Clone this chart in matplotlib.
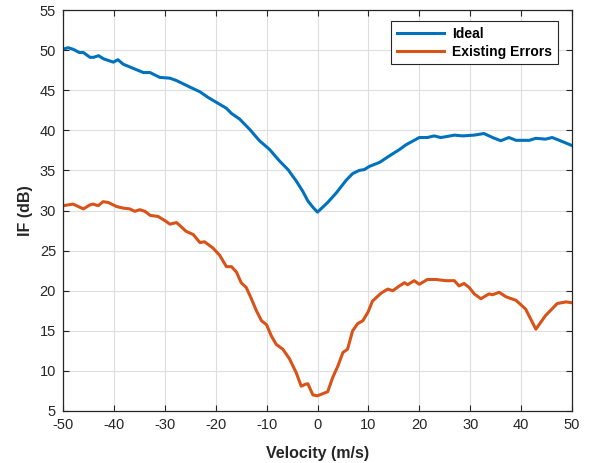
import matplotlib
matplotlib.use("Agg")
import matplotlib.pyplot as plt

ideal_v = [-50, -49, -48, -46.8, -46, -44.7, -44, -43, -42, -40.1, -39.2, -38.2, -36.5, -34.2,
           -32.9, -31, -29, -27.7, -25.1, -23.1, -21.5, -19.9, -17.9, -16.9, -15.3, -13.3,
           -11.4, -9.4, -7.5, -5.8, -4.2, -2.9, -1.9, -0.9, 0,
           2, 3.7, 5.6, 6.9, 8.2, 9.2, 10.2, 12.2, 14.1, 16.1, 17.4, 19, 20, 21.6, 22.9, 24.2,
           25.2, 26.9, 28.5, 30.8, 32.7, 34.4, 36, 37.6, 39, 41.6, 42.9, 44.8, 46.1, 47.5, 50]
ideal_db = [50.1, 50.3, 50.1, 49.7, 49.7, 49.1, 49.1, 49.3, 48.9, 48.5, 48.8, 48.25, 47.8, 47.2,
            47.2, 46.6, 46.5, 46.2, 45.4, 44.8, 44.1, 43.5, 42.75, 42.1, 41.4, 40.1,
            38.7, 37.6, 36.2, 35.1, 33.7, 32.4, 31.2, 30.4, 29.8,
            31.0, 32.2, 33.75, 34.6, 35.0, 35.1, 35.5, 36.0, 36.8, 37.6, 38.2, 38.75, 39.1, 39.1,
            39.3, 39.1, 39.2, 39.4, 39.3, 39.4, 39.6, 39.1, 38.7, 39.1, 38.75, 38.75, 39.0,
            38.9, 39.1, 38.75, 38.1]

err_v = [-50, -48, -46, -44.7, -44.1, -43.1, -42.1, -41.1, -39.5, -38.2, -36.9, -35.9, -34.9,
         -33.9, -32.9, -31.3, -30, -29, -27.7, -25.8, -24.4, -23.1, -22.2, -20.5, -19.2, -17.9,
         -16.9, -15.9, -15, -14, -13, -12, -11, -10, -9.1, -8.1, -6.8, -5.5, -4.2, -3.2, -2.5,
         -1.9, -0.9, 0,
         2, 3, 4, 5, 5.9, 6.9, 7.9, 8.9, 9.9, 10.8, 12.5, 13.8, 14.8, 16.1, 17.1, 17.7, 19, 20,
         21.6, 23.3, 25.2, 26.9, 27.8, 28.8, 29.8, 30.8, 32.1, 33.7, 34.4, 35.7, 37, 39, 40.9,
         42.9, 44.8, 47.1, 48.8, 50]
err_db = [30.6, 30.8, 30.2, 30.7, 30.8, 30.6, 31.1, 31.0, 30.5, 30.3, 30.2, 29.9, 30.1,
          29.9, 29.4, 29.25, 28.75, 28.3, 28.5, 27.4, 27.0, 26.0, 26.1, 25.3, 24.4, 23.0,
          23.0, 22.3, 21.0, 20.4, 19.0, 17.5, 16.25, 15.75, 14.4, 13.3, 12.7, 11.5, 9.8, 8.1,
          8.3, 8.4, 7.0, 6.9,
          7.4, 9.2, 10.6, 12.3, 12.7, 15.0, 15.9, 16.25, 17.3, 18.7, 19.7, 20.2, 20.0, 20.6,
          21.0, 20.75, 21.25, 20.8, 21.4, 21.4, 21.25, 21.25, 20.6, 20.9, 20.4, 19.6, 19.0,
          19.6, 19.5, 19.8, 19.25, 18.8, 17.7, 15.2, 16.9, 18.4, 18.6, 18.5]

xticks = list(range(-50, 51, 10))
yticks = list(range(5, 56, 5))

plt.rcParams['font.family'] = ['Liberation Sans', 'DejaVu Sans']
plt.rcParams['axes.unicode_minus'] = False

fig = plt.figure(figsize=(6.0, 4.63), dpi=100)
ax = fig.add_axes([63/600, 1 - 411/463, (572-63)/600, (411-10)/463])

ax.plot(ideal_v, ideal_db, color='#0072BD', lw=2.2, label='Ideal')
ax.plot(err_v, err_db, color='#D95319', lw=2.2, label='Existing Errors')

ax.set_xlim(-50, 50)
ax.set_ylim(5, 55)
ax.set_xticks(xticks)
ax.set_yticks(yticks)
ax.set_xticklabels([str(t) for t in xticks])
ax.set_yticklabels([str(t) for t in yticks])
ax.tick_params(direction='in', top=True, right=True, labelsize=10.5, colors='#262626',
               length=4, width=0.8, pad=5)
ax.grid(True, color='#dedede', lw=0.8)
ax.set_axisbelow(True)
for s in ax.spines.values():
    s.set_color('#262626')
    s.set_linewidth(0.9)

ax.set_xlabel('Velocity (m/s)', fontsize=11.5, fontweight='bold', color='#262626', labelpad=10)
ax.set_ylabel('IF (dB)', fontsize=11.5, fontweight='bold', color='#262626', labelpad=5)

leg = ax.legend(loc='upper right', bbox_to_anchor=(1 - 14/509, 1 - 11/401), borderaxespad=0,
                prop={'weight': 'bold', 'size': 10}, fancybox=False, framealpha=1,
                edgecolor='#262626', handlelength=3.4, borderpad=0.4, labelspacing=0.3,
                handletextpad=0.6)
leg.get_frame().set_linewidth(0.8)

fig.savefig('out.png', dpi=100)
